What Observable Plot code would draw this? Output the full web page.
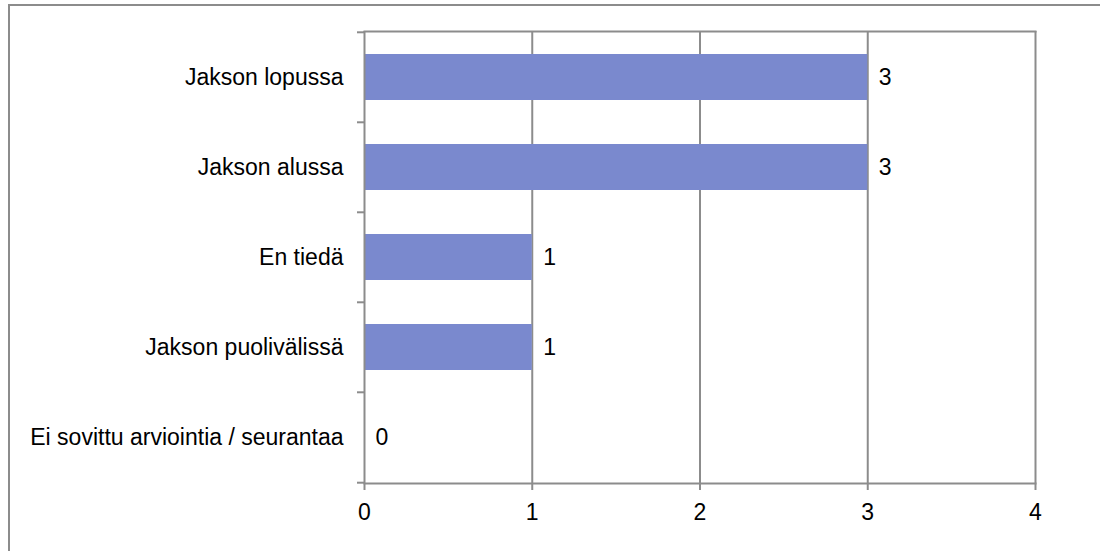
<!DOCTYPE html>
<html><head><meta charset="utf-8">
<script src="https://cdn.jsdelivr.net/npm/d3@7"></script>
<script src="https://cdn.jsdelivr.net/npm/@observablehq/plot@0.6"></script>
<style>
html,body{margin:0;padding:0;background:#fff;overflow:hidden;width:1100px;height:551px}
#frame{position:absolute;left:8px;top:4px;width:1200px;height:700px;border:2px solid #8c8c8c;box-sizing:border-box}
#chart{position:absolute;left:0;top:0}
</style></head><body><div id="frame"></div><div id="chart"></div>
<script>
const categories = ["Jakson lopussa","Jakson alussa","En tiedä","Jakson puolivälissä","Ei sovittu arviointia / seurantaa"];
const values = [3,3,1,1,0];
const xTicks = [0,1,2,3,4];

const data = categories.map((c,i)=>({category:c, value:values[i]}));
const W=1100,H=551, mL=364, mR=65, mT=31, mB=68;
const step=(H-mT-mB)/categories.length;
const pxPerUnit=(W-mL-mR)/(xTicks[xTicks.length-1]-xTicks[0]);
const grey="#8c8c8c";
const fs = 23;
const plot = Plot.plot({
  width:W,height:H,marginLeft:mL,marginRight:mR,marginTop:mT,marginBottom:mB,
  style:{fontFamily:"'Liberation Sans', Arial, sans-serif", fontSize:fs+"px", color:"#000", background:"transparent", overflow:"visible"},
  x:{domain:[xTicks[0], xTicks[xTicks.length-1]]},
  y:{domain:categories, paddingInner:0.49, paddingOuter:0.245},
  marks:[
    Plot.ruleX(xTicks.slice(1), {stroke:grey, strokeWidth:2}),
    Plot.barX(data, {x:"value", y:"category", fill:"#7a89ce"}),
    Plot.ruleX([xTicks[0]], {stroke:grey, strokeWidth:2}),
    Plot.frame({anchor:"bottom", stroke:grey, strokeWidth:2}),
    Plot.frame({anchor:"top", stroke:grey, strokeWidth:2}),
    Plot.ruleY(categories, {y:d=>d, x1:-7/pxPerUnit, x2:0, dy:-step/2, stroke:grey, strokeWidth:2}),
    Plot.ruleY(categories.slice(-1), {y:d=>d, x1:-7/pxPerUnit, x2:0, dy:step/2, stroke:grey, strokeWidth:2}),
    Plot.text(data, {x:"value", y:"category", text:d=>String(d.value), textAnchor:"start", dx:11, fill:"#000"}),
    Plot.axisX({ticks:xTicks, tickSize:7, tickPadding:13, stroke:grey, strokeWidth:2, tickFormat:d=>String(d), label:null, fill:"#000"}),
    Plot.axisY({tickSize:0, tickPadding:21, label:null, fill:"#000"})
  ]
});
document.getElementById("chart").appendChild(plot);
</script></body></html>
